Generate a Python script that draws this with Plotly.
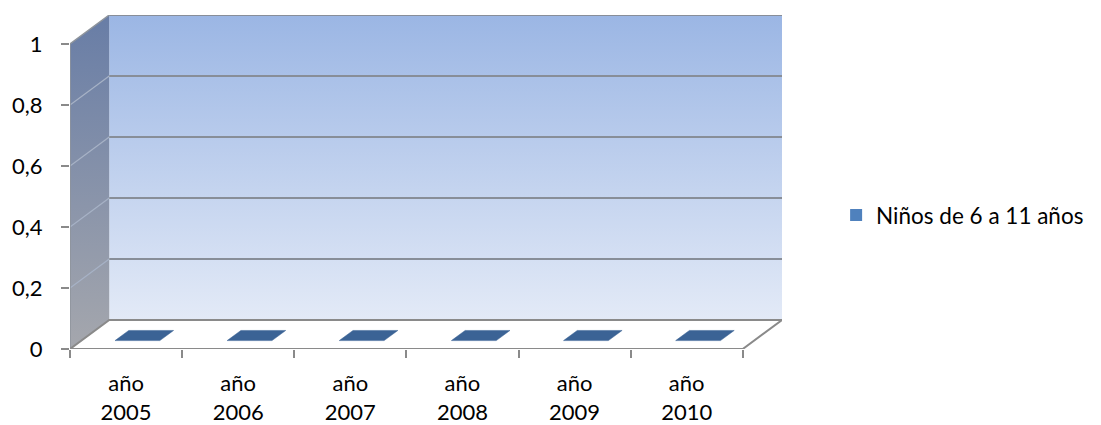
import plotly.graph_objects as go

# ---- data ----
categories = ["año 2005", "año 2006", "año 2007", "año 2008", "año 2009", "año 2010"]
values = [0, 0, 0, 0, 0, 0]
series_name = "Niños de 6 a 11 años"
y_ticks = [0, 0.2, 0.4, 0.6, 0.8, 1]
y_tick_labels = ["0", "0,2", "0,4", "0,6", "0,8", "1"]

# ---- pseudo-3D geometry (in axis units) ----
DX = 0.35    # depth shift along x (category units)
DY = 0.095   # depth shift along y (value units)
BAR_W = 0.40
D0, D1 = 0.29, 0.64  # bar depth extent (fraction of depth)
n = len(categories)
x0, x1 = -0.5, n - 0.5
ymax = max(y_ticks)

fig = go.Figure()

# back wall
fig.add_trace(go.Scatter(
    x=[x0 + DX, x1 + DX, x1 + DX, x0 + DX, x0 + DX],
    y=[DY, DY, ymax + DY, ymax + DY, DY],
    fill="toself", mode="lines", line=dict(width=0),
    fillgradient=dict(type="vertical", colorscale=[[0, "#e3eaf7"], [1, "#9bb6e4"]]),
    hoverinfo="skip", showlegend=False))

# side wall
fig.add_trace(go.Scatter(
    x=[x0, x0 + DX, x0 + DX, x0, x0],
    y=[0, DY, ymax + DY, ymax, 0],
    fill="toself", mode="lines", line=dict(width=0),
    fillgradient=dict(type="vertical", colorscale=[[0, "#a5a7ad"], [1, "#687da6"]]),
    hoverinfo="skip", showlegend=False))

# side-wall gridlines (diagonal)
gx, gy = [], []
for v in y_ticks[1:-1]:
    gx += [x0, x0 + DX, None]
    gy += [v, v + DY, None]
fig.add_trace(go.Scatter(x=gx, y=gy, mode="lines",
                         line=dict(color="#a7b2c6", width=1.2),
                         hoverinfo="skip", showlegend=False))

# back-wall gridlines
bx, by = [], []
for v in y_ticks[1:]:
    bx += [x0 + DX, x1 + DX, None]
    by += [v + DY, v + DY, None]
fig.add_trace(go.Scatter(x=bx, y=by, mode="lines",
                         line=dict(color="#888e98", width=2),
                         hoverinfo="skip", showlegend=False))

# wall outline (top diagonal + left edge)
fig.add_trace(go.Scatter(
    x=[x0, x0, x0 + DX], y=[0, ymax, ymax + DY], mode="lines",
    line=dict(color="#8e949c", width=1.5), hoverinfo="skip", showlegend=False))

# floor
fig.add_trace(go.Scatter(
    x=[x0, x1, x1 + DX, x0 + DX, x0],
    y=[0, 0, DY, DY, 0],
    fill="toself", fillcolor="#ffffff", mode="lines",
    line=dict(color="#8a8a8a", width=2),
    hoverinfo="skip", showlegend=False))

# bars (top faces, at height = value)
px, py = [], []
for i, v in enumerate(values):
    px += [i - BAR_W / 2 + D0 * DX, i + BAR_W / 2 + D0 * DX,
           i + BAR_W / 2 + D1 * DX, i - BAR_W / 2 + D1 * DX,
           i - BAR_W / 2 + D0 * DX, None]
    py += [v + D0 * DY, v + D0 * DY, v + D1 * DY, v + D1 * DY, v + D0 * DY, None]
fig.add_trace(go.Scatter(x=px, y=py, fill="toself", fillcolor="#3b6395",
                         mode="lines", line=dict(color="#3b6395", width=0.5),
                         hoverinfo="skip", showlegend=False))

# series bar (for legend / data)
fig.add_trace(go.Bar(x=list(range(n)), y=values, name=series_name,
                     marker=dict(color="#4f81bd", line=dict(width=0)),
                     width=BAR_W, showlegend=True))

# invisible trace for boundary ticks axis
fig.add_trace(go.Scatter(x=[x0], y=[0], xaxis="x2", mode="markers",
                         marker=dict(opacity=0), hoverinfo="skip", showlegend=False))

font = dict(family="Lato, 'Open Sans', sans-serif", size=22, color="#000000")

fig.update_layout(
    width=1101, height=425,
    margin=dict(l=70, r=317, t=15, b=76),
    paper_bgcolor="white", plot_bgcolor="white",
    font=font,
    showlegend=True,
    legend=dict(x=1.076, y=0.40, xanchor="left", yanchor="middle",
                font=dict(family=font["family"], size=22.5, color="#000000"),
                bgcolor="rgba(0,0,0,0)", itemwidth=30),
    xaxis=dict(range=[x0, x1 + DX], tickvals=list(range(n)),
               ticktext=[c.replace(" ", "<br>") for c in categories],
               showgrid=False, zeroline=False, showline=False, ticks="",
               ticklabelstandoff=19, fixedrange=True, automargin=False),
    xaxis2=dict(range=[x0, x1 + DX], overlaying="x", anchor="y", side="bottom",
                tickvals=[x0 + k for k in range(n + 1)], showticklabels=False,
                ticks="outside", ticklen=8, tickwidth=1.5, tickcolor="#8a8a8a",
                showgrid=False, zeroline=False, showline=False),
    yaxis=dict(range=[0, ymax + DY], tickvals=y_ticks, ticktext=y_tick_labels,
               showgrid=False, zeroline=False, showline=False,
               ticks="outside", ticklen=8, tickwidth=1.5, tickcolor="#8a8a8a",
               ticklabelstandoff=14, fixedrange=True, automargin=False),
)

fig.write_html("out.html", config={"displayModeBar": False},
               post_script="document.body.style.margin='0px';")
